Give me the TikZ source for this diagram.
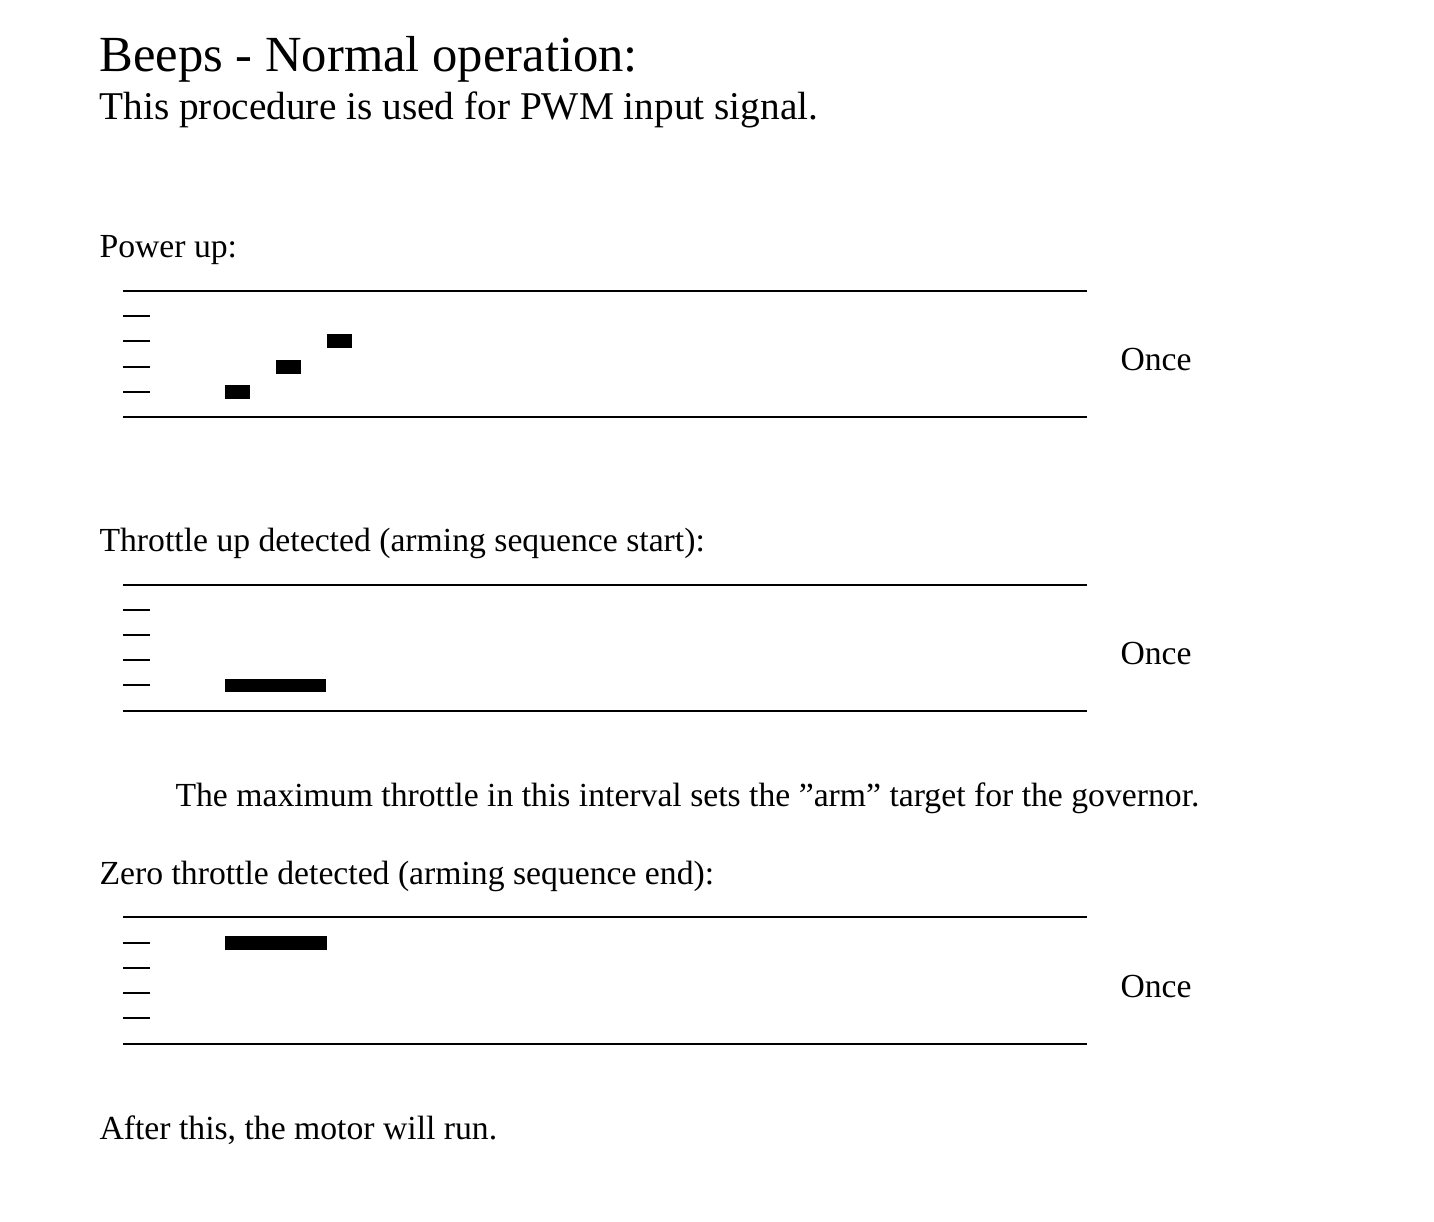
\documentclass[tikz,border=0pt]{standalone}
\usepackage{fontspec}
\setmainfont{Liberation Serif}
\tikzset{
  frame/.style={line width=0.9pt},
  tick/.style={line width=0.9pt},
  beep/.style={fill=black, draw=none},
  txt/.style={anchor=base west, inner sep=0pt, font=\fontsize{12.25}{14}\selectfont},
}
\begin{document}
\begin{tikzpicture}[x=0.3636pt, y=-0.3636pt]
  \useasboundingbox (0,0) rectangle (1434,1222);
  \node[txt, font=\fontsize{18.4}{20}\selectfont] (title) at (99,72) {Beeps - Normal operation:};
  \node[txt, font=\fontsize{14.3}{16}\selectfont] (intro) at (99,120) {This procedure is used for PWM input signal.};
  % power up
  \node[txt] (power) at (99,258) {Power up:};
  \draw[frame] (123,291) -- (1087,291);
  \draw[frame] (123,417) -- (1087,417);
  \draw[tick] (123,316) -- (150,316);
  \draw[tick] (123,341) -- (150,341);
  \draw[tick] (123,367) -- (150,367);
  \draw[tick] (123,392) -- (150,392);
  \fill[beep] (225,385) rectangle (250,399);
  \fill[beep] (276,360) rectangle (301,374);
  \fill[beep] (327,334) rectangle (352,348);
  \node[txt] (once1) at (1120,370) {Once};
  % throttle up
  \node[txt] (thrup) at (99,551) {Throttle up detected (arming sequence start):};
  \draw[frame] (123,585) -- (1087,585);
  \draw[frame] (123,711) -- (1087,711);
  \draw[tick] (123,610) -- (150,610);
  \draw[tick] (123,635) -- (150,635);
  \draw[tick] (123,660) -- (150,660);
  \draw[tick] (123,685) -- (150,685);
  \fill[beep] (225,679) rectangle (326,692);
  \node[txt] (once2) at (1120,664) {Once};
  \node[txt] (note) at (175,806) {The maximum throttle in this interval sets the ”arm” target for the governor.};
  % zero throttle
  \node[txt] (zero) at (99,884) {Zero throttle detected (arming sequence end):};
  \draw[frame] (123,917) -- (1087,917);
  \draw[frame] (123,1044) -- (1087,1044);
  \draw[tick] (123,943) -- (150,943);
  \draw[tick] (123,968) -- (150,968);
  \draw[tick] (123,993) -- (150,993);
  \draw[tick] (123,1018) -- (150,1018);
  \fill[beep] (225,936) rectangle (327,950);
  \node[txt] (once3) at (1120,997) {Once};
  \node[txt] (after) at (99,1139) {After this, the motor will run.};
\end{tikzpicture}
\end{document}
